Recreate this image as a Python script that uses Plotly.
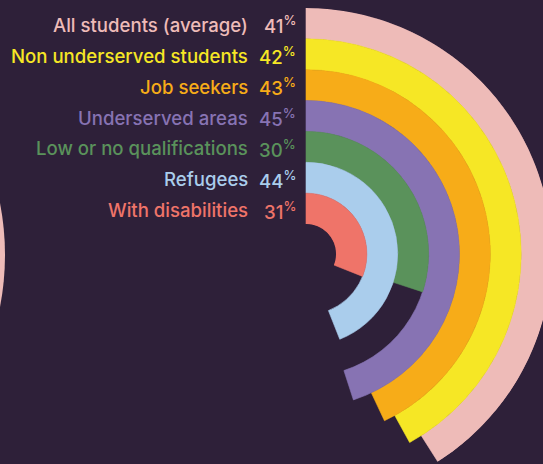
import plotly.graph_objects as go

categories = ["All students (average)", "Non underserved students", "Job seekers",
              "Underserved areas", "Low or no qualifications", "Refugees", "With disabilities"]
values = [41, 42, 43, 45, 30, 44, 31]
colors = ["#EEBBB8", "#F6E725", "#F7AC18", "#8773B3", "#5A925B", "#AACDEC", "#EF7469"]
bg = "#2E2039"

W, H = 552, 500
cx, cy, R, hole_px = 306, 254, 246, 30
n = len(categories)
ring = (R - hole_px) / n

fig = go.Figure()
for i, (cat, v, c) in enumerate(zip(categories, values, colors)):
    base = n - 1 - i
    fig.add_trace(go.Barpolar(
        r=[1], base=[base], theta=[v * 3.6 / 2], width=[v * 3.6],
        marker=dict(color=c, line=dict(width=0.6, color=c)), name=cat, hoverinfo="skip"))
    ypx = cy - (R - ring * (i + 0.5)) + 1.5
    fig.add_annotation(x=250 / W, y=1 - ypx / H, xref="paper", yref="paper",
                       xanchor="right", yanchor="middle", showarrow=False,
                       text=cat, font=dict(family="Inter", size=18.6, color=c, weight=500))
    fig.add_annotation(x=298 / W, y=1 - ypx / H, xref="paper", yref="paper",
                       xanchor="right", yanchor="middle", showarrow=False,
                       text=f"{v}<sup>%</sup>", font=dict(family="Inter", size=18.6, color=c, weight=500))

# partial pink disc at the left edge (from neighbouring graphic)
rr = 273
fig.add_shape(type="circle", xref="paper", yref="paper",
              x0=(5 - 2 * rr) / W, x1=5 / W, y0=1 - (255 + rr) / H, y1=1 - (255 - rr) / H,
              fillcolor="#EEBBB8", line=dict(width=0), layer="below")

fig.update_layout(
    width=W, height=H, margin=dict(l=0, r=0, t=0, b=0),
    paper_bgcolor=bg, plot_bgcolor=bg, showlegend=False,
    polar=dict(
        domain=dict(x=[(cx - R) / W, (cx + R) / W], y=[1 - (cy + R) / H, 1 - (cy - R) / H]),
        bgcolor="rgba(0,0,0,0)", hole=hole_px / R, bargap=0,
        radialaxis=dict(range=[0, n], visible=False, showgrid=False),
        angularaxis=dict(rotation=90, direction="clockwise", visible=False, showgrid=False),
    ),
)

fig.write_html("out.html", post_script="document.body.style.overflow='hidden';document.documentElement.style.overflow='hidden';document.body.style.margin='0';")
